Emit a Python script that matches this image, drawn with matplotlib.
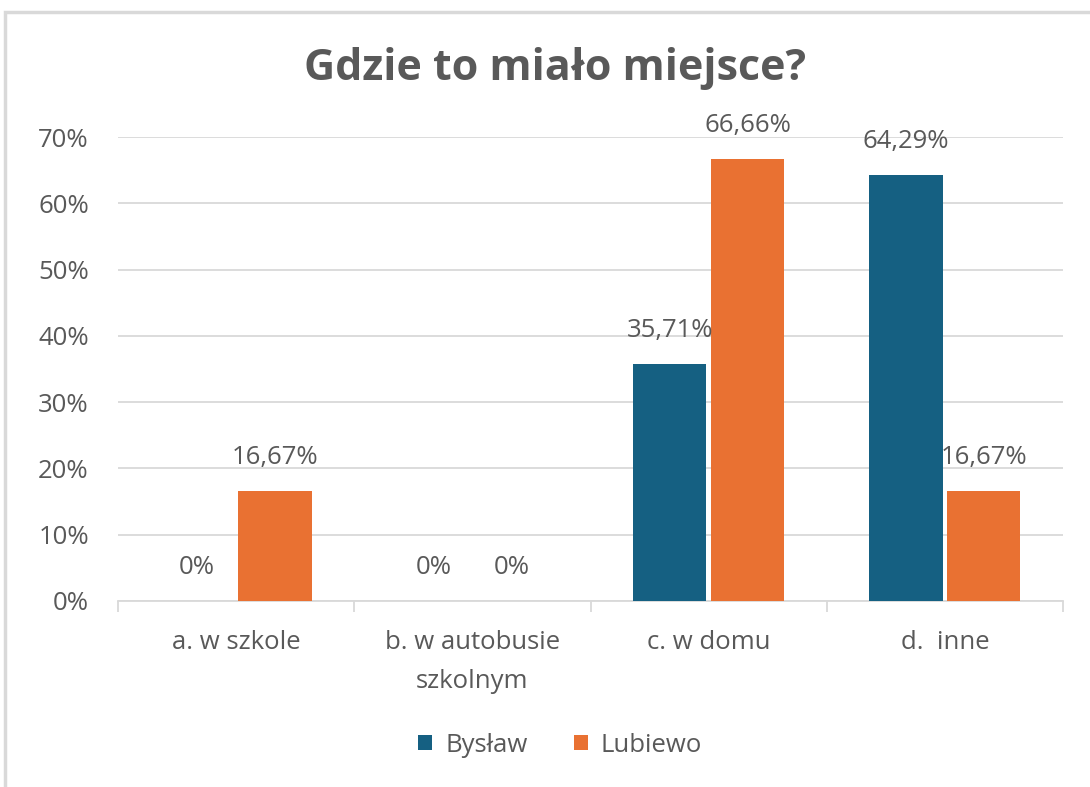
import numpy as np
import matplotlib.pyplot as plt
from matplotlib.patches import Rectangle

# data
categories = ['a. w szkole', 'b. w autobusie\nszkolnym', 'c. w domu', 'd.  inne']
bystaw = [0, 0, 35.71, 64.29]
lubiewo = [16.67, 0, 66.66, 16.67]
bystaw_labels = ['0%', '0%', '35,71%', '64,29%']
lubiewo_labels = ['16,67%', '0%', '66,66%', '16,67%']
y_ticks = [0, 10, 20, 30, 40, 50, 60, 70]

blue = '#156082'
orange = '#E97132'
grey_txt = '#595959'
fs = 18.5

plt.rcParams['font.family'] = ['Open Sans', 'DejaVu Sans']

fig = plt.figure(figsize=(10.9, 7.87), dpi=100)
# outer chart frame
fig.patches.append(Rectangle((5 / 1090, -0.02), 1.1, 1 - 12 / 787 + 0.02,
                             transform=fig.transFigure, fill=False,
                             edgecolor='#d9d9d9', lw=2.5))

ax = fig.add_axes([118 / 1090, 1 - 601 / 787, (1063 - 118) / 1090, (601 - 137) / 787])

x = np.arange(len(categories))
w = 0.31
off = 0.165
b1 = ax.bar(x - off, bystaw, w, color=blue, zorder=3)
b2 = ax.bar(x + off, lubiewo, w, color=orange, zorder=3)

for bars, labels in ((b1, bystaw_labels), (b2, lubiewo_labels)):
    for r, lab in zip(bars, labels):
        ax.annotate(lab, (r.get_x() + r.get_width() / 2, r.get_height()),
                    xytext=(0, 24), textcoords='offset points',
                    ha='center', va='center', fontsize=fs, color=grey_txt, zorder=4)

ax.set_xlim(-0.5, len(categories) - 0.5)
ax.set_ylim(0, 70)
ax.set_yticks(y_ticks)
ax.set_yticklabels([f'{t}%' for t in y_ticks])
ax.yaxis.grid(True, color='#d9d9d9', lw=1.3, zorder=0)
ax.set_axisbelow(True)

ax.set_xticks(x)
ax.set_xticklabels(categories, linespacing=1.75)
ax.set_xticks(np.arange(-0.5, len(categories)), minor=True)
ax.tick_params(axis='x', which='major', length=0, pad=21, labelsize=fs, colors=grey_txt)
ax.tick_params(axis='x', which='minor', length=8, width=1.3, color='#d9d9d9')
ax.tick_params(axis='y', length=0, pad=21, labelsize=fs, colors=grey_txt)

for s in ('top', 'right', 'left'):
    ax.spines[s].set_visible(False)
ax.spines['bottom'].set_color('#d9d9d9')
ax.spines['bottom'].set_linewidth(1.3)

fig.text(555 / 1090, 1 - 68 / 787, 'Gdzie to miało miejsce?', ha='center', va='center',
         fontsize=31, fontweight='bold', color=grey_txt)

fig.legend([b1, b2], ['Bysław', 'Lubiewo'], loc='center', bbox_to_anchor=(560 / 1090, 1 - 745 / 787),
           ncol=2, frameon=False, fontsize=fs, labelcolor=grey_txt,
           handlelength=0.55, handleheight=0.55, handletextpad=0.5, columnspacing=1.8)

fig.savefig('out.png', dpi=100, facecolor='white')
